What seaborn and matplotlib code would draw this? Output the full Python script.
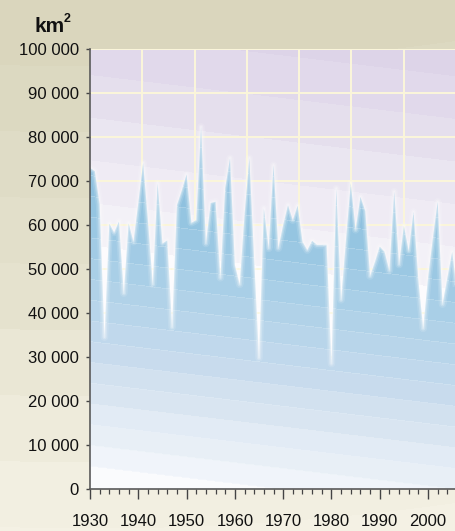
import numpy as np
import pandas as pd
import matplotlib
matplotlib.use("Agg")
import matplotlib.pyplot as plt
from matplotlib.patches import PathPatch
from matplotlib.path import Path
from matplotlib.colors import to_rgb
from matplotlib.ticker import FuncFormatter, MultipleLocator, FixedLocator
import seaborn as sns

# Annual maximum ice extent, km²
years = list(range(1930, 2007))
ice_km2 = [
    73000, 72200, 64700, 34500, 60300, 58300, 60800, 44500, 60400, 56200,
    65000, 74100, 61000, 46500, 69500, 55800, 56500, 36800, 64500, 67800,
    71500, 60500, 61100, 82300, 55800, 65000, 65300, 48000, 68400, 75200,
    50900, 46500, 62300, 75200, 52000, 29800, 63800, 54700, 73600, 54700,
    60000, 64500, 61100, 64400, 56200, 54300, 56400, 55500, 55500, 55500,
    28500, 68300, 43000, 56500, 69500, 58900, 66400, 63200, 48400, 51600,
    55100, 53900, 49600, 67600, 51000, 59800, 54100, 63000, 47500, 36500,
    48000, 57000, 65300, 42000, 48000, 53900, 45000,
]
x_tick_years = [1930, 1940, 1950, 1960, 1970, 1980, 1990, 2000]
y_tick_values = [0, 10000, 20000, 30000, 40000, 50000, 60000, 70000, 80000, 90000, 100000]

plt.rcParams["font.family"] = ["Liberation Sans", "DejaVu Sans"]

W, H = 456, 531
fig = plt.figure(figsize=(W / 100, H / 100), dpi=100)


def ramp(values, anchors, colors):
    rgb = np.array([to_rgb(c) for c in colors])
    return np.stack([np.interp(values, anchors, rgb[:, k]) for k in range(3)], axis=-1)


# page background: beige, lighter towards the bottom, in soft steps
page = fig.add_axes([0, 0, 1, 1], zorder=-10)
page.set_axis_off()
yy, xx = np.mgrid[0:H, 0:W]
lvl = yy + 40 * ((xx / W) - 0.2) ** 2
band = (np.floor(lvl / 66) + 0.5) * 66
page_rgb = ramp(band, [0, 150, 300, 420, 531],
                ["#d9d5bb", "#dfdcc5", "#e6e3cf", "#eeebdb", "#f4f1e4"])
page.imshow(page_rgb, extent=[0, 1, 0, 1], aspect="auto", interpolation="bilinear")
page.set_xlim(0, 1)
page.set_ylim(0, 1)

# plot axes
x0, x1 = 1930, 1930 + 366 / 4.829
ax = fig.add_axes([90 / W, 42 / H, 366 / W, 440 / H])
ax.set_xlim(x0, x1)
ax.set_ylim(0, 100000)
ax.set_facecolor("none")

slope = 131.7  # km² per year, tilt of the shading bands
gx = np.linspace(x0, x1, 732)
gy = np.linspace(0, 100000, 880)
GX, GY = np.meshgrid(gx, gy)
level = GY + slope * (GX - 1930)

# sky shading above the ice
sky_step, sky_off = 9700, 6900
sky_c = sky_off + (np.floor((level - sky_off) / sky_step) + 0.5) * sky_step
sky_rgb = ramp(sky_c, [50000, 60000, 70000, 80000, 90000, 100000, 110000],
               ["#fdfcfe", "#f4f2f8", "#efebf4", "#eae6f1", "#e5dfed", "#e1d9eb", "#ddd4e8"])
ax.imshow(sky_rgb, extent=[x0, x1, 0, 100000], origin="lower", aspect="auto",
          interpolation="nearest", zorder=0)

# grid
for v in y_tick_values[1:]:
    ax.axhline(v, color="#fbf6da", lw=1.4, zorder=1)
for gxv in np.linspace(x0, x1, 8)[1:-1]:
    ax.axvline(gxv, color="#fbf6da", lw=1.4, zorder=1)

# ice area: blue banded shading clipped to the series outline
ice_step, ice_off = 4720, 400
frac = (level - ice_off) / ice_step
ice_c = ice_off + (np.floor(frac) + 0.5) * ice_step
ice_rgb = ramp(ice_c, [2500, 7500, 12000, 17000, 21000, 26000, 31000, 50000, 60000, 70000, 80000],
               ["#fbfcfe", "#f0f4fa", "#e9f0f7", "#e2ebf5", "#dbe6f2", "#d3e2f0", "#c9dcee",
                "#a9cfe7", "#9bc8e3", "#8ec1df", "#86bddd"])
edge = ((frac % 1) * ice_step) < 200
ice_rgb[edge] = ice_rgb[edge] * 0.78 + 0.22

verts = [(years[0], 0)] + list(zip(years, ice_km2)) + [(years[-1], 0)]
outline = PathPatch(Path(verts), transform=ax.transData, facecolor="none", edgecolor="none")
ax.add_patch(outline)
ice_img = ax.imshow(ice_rgb, extent=[x0, x1, 0, 100000], origin="lower", aspect="auto",
                    interpolation="nearest", zorder=2)
ice_img.set_clip_path(outline)

# soft white rim along the top of the area
df = pd.DataFrame({"year": years, "km2": ice_km2})
for lw, a in [(5.5, 0.12), (3.2, 0.22), (1.4, 0.3)]:
    sns.lineplot(data=df, x="year", y="km2", ax=ax, color="white", lw=lw, alpha=a,
                 estimator=None, sort=False, zorder=3, legend=False)
ax.set_xlabel("")
ax.set_ylabel("")

# axes styling
for side in ["top", "right"]:
    ax.spines[side].set_visible(False)
for side in ["left", "bottom"]:
    ax.spines[side].set_color("#5a5a5a")
    ax.spines[side].set_linewidth(1.2)
    ax.spines[side].set_zorder(5)

ax.xaxis.set_major_locator(FixedLocator(x_tick_years))
ax.xaxis.set_minor_locator(MultipleLocator(2))
ax.yaxis.set_major_locator(FixedLocator(y_tick_values))
ax.yaxis.set_major_formatter(FuncFormatter(lambda v, p: f"{int(v):,}".replace(",", " ")))
ax.tick_params(axis="x", which="major", direction="out", length=7.5, width=1.0,
               color="#444444", pad=10.5, labelsize=12, labelcolor="#111111")
ax.tick_params(axis="x", which="minor", direction="out", length=3.8, width=0.9,
               color="#444444")
ax.tick_params(axis="y", which="major", direction="out", length=3, width=1.0,
               color="#444444", pad=5, labelsize=12, labelcolor="#111111")

# unit label with a raised small "2"
fig.text(35 / W, 1 - 32 / H, "km", ha="left", va="baseline",
         fontsize=15, fontweight="bold", color="#111111")
fig.text(64 / W, 1 - 22 / H, "2", ha="left", va="baseline",
         fontsize=9, fontweight="bold", color="#111111")

fig.savefig("out.png", dpi=100)
